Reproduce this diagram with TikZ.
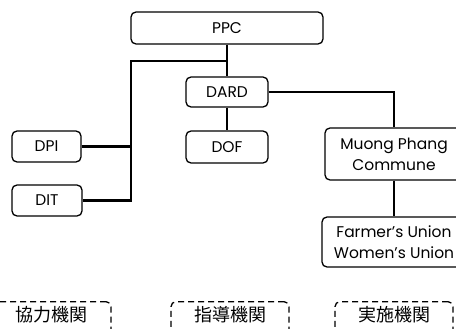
\documentclass[tikz,border=0pt]{standalone}
\usepackage{fontspec}
\setmainfont{Poppins}
\newfontfamily\cjk{Noto Sans CJK JP}
\usepackage{tikz}
\usetikzlibrary{positioning,calc}

\begin{document}
\begin{tikzpicture}[x=1pt,y=-1pt,font=\fontsize{15.5}{21}\selectfont,
  orgbox/.style={draw,line width=1.3pt,rounded corners=5pt,align=center,inner sep=0pt},
  thinline/.style={line width=1.3pt},
  thickline/.style={line width=2.4pt},
  rolebox/.style={draw,line width=1.3pt,dash pattern=on 6pt off 4pt,rounded corners=5pt,
    minimum width=118pt,inner xsep=0pt,inner ysep=4pt,text height=15.5pt,text depth=30pt,
    anchor=north,font=\cjk\fontsize{18}{18}\selectfont}]
\useasboundingbox (0,0) rectangle (456,329);
\clip (0,0) rectangle (456,329);
% boxes
\node[orgbox,minimum width=192pt,minimum height=32pt] (ppc) at (227,28) {PPC};
\node[orgbox,minimum width=82pt,minimum height=30pt] (dard) at (227,92) {DARD};
\node[orgbox,minimum width=82pt,minimum height=32pt] (dof) at (227,147) {DOF};
\node[orgbox,minimum width=69pt,minimum height=31pt] (dpi) at (46.5,146.5) {DPI};
\node[orgbox,minimum width=70pt,minimum height=31pt] (dit) at (47,200.5) {DIT};
\node[orgbox,minimum width=138pt,minimum height=52pt] (commune) at (394,154) {Muong Phang\\Commune};
\node[orgbox,minimum width=144pt,minimum height=50pt] (unions) at (394,242) {Farmer’s Union\\Women’s Union};
% bottom labels
\foreach \x/\t/\n in {52/協力機関/coop, 230/指導機関/guide, 394/実施機関/impl}
  \node[rolebox] (\n) at (\x,301) {\t};
% connectors
\coordinate (split) at (227,61);
\coordinate (spine) at (131,61);
\draw[thickline] (ppc.south) -- (split);
\draw[thinline] (split) -- (dard.north);
\draw[thinline] (split) -- (spine) -- (spine |- dpi.east);
\draw[thickline] (dpi.east) -- (dpi.east -| spine) |- (dit.east);
\draw[thinline] (dard.south) -- (dof.north);
\draw[thinline] (dard.east) -| (commune.north);
\draw[thinline] (commune.south) -- (unions.north);
\end{tikzpicture}
\end{document}
